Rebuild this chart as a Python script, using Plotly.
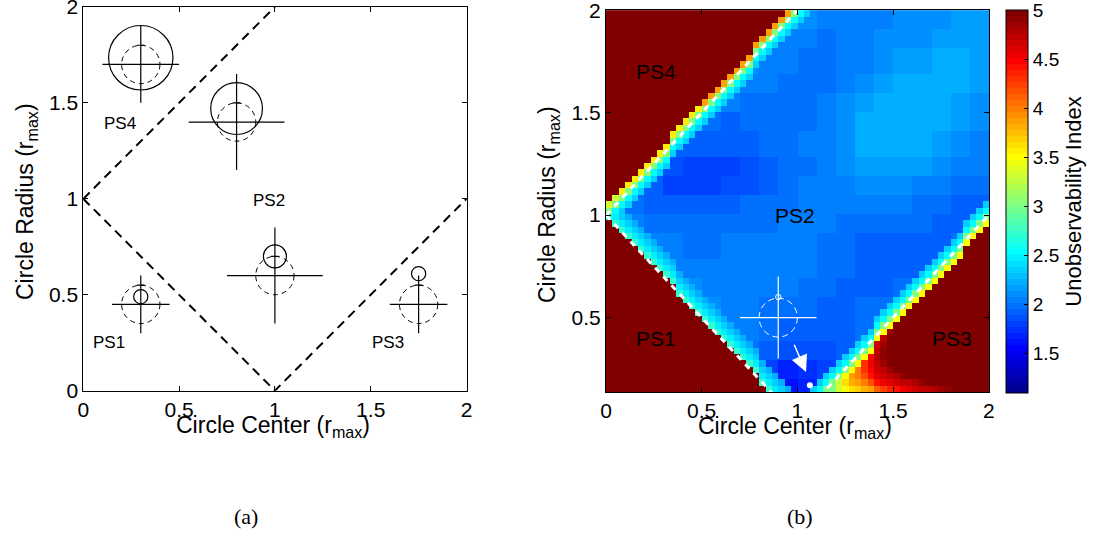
import numpy as np
import plotly.graph_objects as go

W, H = 1093, 533
FONT = "Liberation Sans"

# ---------------- panel (a) data ----------------
bnd_upper_x = [0.0, 1.0]
bnd_upper_y = [1.0, 2.0]
bnd_lower_x = [0.0, 1.0, 2.0]
bnd_lower_y = [1.0, 0.0, 1.0]

icon_x = [0.3, 0.8, 1.0, 0.3, 1.75]
icon_y = [1.7, 1.4, 0.6, 0.45, 0.45]
icon_arm = [0.2, 0.25, 0.25, 0.15, 0.15]
icon_dashed_r = [0.1, 0.1, 0.1, 0.1, 0.1]
icon_solid_y = [1.735, 1.47, 0.70, 0.49, 0.61]
icon_solid_r = [0.168, 0.135, 0.06, 0.037, 0.037]

ps_text = ["PS4", "PS2", "PS1", "PS3"]
ps_a_x = [0.19, 0.97, 0.135, 1.59]
ps_a_y = [1.39, 0.99, 0.25, 0.25]

# ---------------- panel (b) data ----------------
ps_b_x = [0.26, 0.99, 0.26, 1.81]
ps_b_y = [1.70, 1.00, 0.40, 0.40]

x_edges = np.linspace(0.0, 2.0, 61)
y_edges = np.linspace(0.137, 2.0, 61)

# PS2 interior read on a 0.1 grid (row centre y, first column centre x, values)
interior_y = [1.95, 1.85, 1.75, 1.65, 1.55, 1.45, 1.35, 1.25, 1.15, 1.05,
              0.95, 0.85, 0.75, 0.65, 0.55, 0.45, 0.35, 0.25, 0.15]
interior_x0 = [0.95, 0.85, 0.75, 0.65, 0.55, 0.45, 0.35, 0.25, 0.15, 0.05,
               0.05, 0.15, 0.25, 0.35, 0.45, 0.55, 0.65, 0.75, 0.85]
interior_vals = [
    [2.10, 2.10, 2.05, 2.02, 2.02, 2.05, 2.08, 2.10, 2.12, 2.14, 2.15],
    [2.10, 2.05, 2.02, 2.00, 2.02, 2.05, 2.08, 2.10, 2.12, 2.15, 2.16, 2.18],
    [2.08, 2.05, 2.02, 2.00, 2.00, 2.02, 2.06, 2.10, 2.14, 2.18, 2.20, 2.20, 2.18],
    [2.06, 2.04, 2.02, 2.00, 1.98, 2.00, 2.05, 2.10, 2.16, 2.20, 2.22, 2.22, 2.20, 2.16],
    [2.04, 2.02, 2.00, 2.00, 1.98, 1.98, 2.02, 2.08, 2.15, 2.20, 2.24, 2.24, 2.22, 2.18, 2.12],
    [1.98, 1.96, 1.95, 1.96, 1.98, 2.00, 2.00, 2.05, 2.12, 2.20, 2.25, 2.25, 2.24, 2.20, 2.15, 2.10],
    [1.95, 1.93, 1.92, 1.92, 1.93, 1.96, 2.00, 2.02, 2.05, 2.12, 2.20, 2.24, 2.24, 2.20, 2.15, 2.10, 2.05],
    [1.93, 1.88, 1.82, 1.78, 1.80, 1.85, 1.90, 1.96, 2.00, 2.04, 2.08, 2.14, 2.18, 2.18, 2.14, 2.10, 2.05, 2.02],
    [1.95, 1.90, 1.83, 1.79, 1.80, 1.84, 1.88, 1.93, 1.98, 2.02, 2.04, 2.06, 2.08, 2.10, 2.10, 2.06, 2.02, 2.00, 1.98],
    [2.05, 1.98, 1.93, 1.90, 1.90, 1.92, 1.94, 1.96, 1.98, 2.00, 2.02, 2.04, 2.04, 2.04, 2.04, 2.02, 2.00, 1.97, 1.95, 1.95],
    [2.10, 2.02, 1.98, 1.96, 1.96, 1.97, 1.98, 2.00, 2.00, 2.02, 2.03, 2.02, 2.00, 1.98, 1.97, 1.96, 1.96, 1.95, 1.93, 1.95],
    [2.10, 2.05, 2.02, 2.00, 2.00, 2.02, 2.04, 2.04, 2.04, 2.02, 2.00, 1.97, 1.95, 1.94, 1.93, 1.93, 1.95, 1.97],
    [2.10, 2.06, 2.04, 2.02, 2.02, 2.04, 2.05, 2.04, 2.02, 2.00, 1.96, 1.94, 1.93, 1.93, 1.95, 1.98],
    [2.10, 2.08, 2.05, 2.04, 2.03, 2.04, 2.02, 2.00, 1.97, 1.95, 1.94, 1.95, 1.97, 2.00],
    [2.12, 2.08, 2.05, 2.02, 2.00, 1.98, 1.96, 1.95, 1.95, 1.96, 1.98, 2.00],
    [2.10, 2.06, 2.02, 1.98, 1.94, 1.92, 1.93, 1.95, 1.97, 2.00],
    [2.05, 2.00, 1.93, 1.86, 1.85, 1.88, 1.92, 1.96],
    [1.95, 1.82, 1.70, 1.72, 1.80, 1.88],
    [1.75, 1.62, 1.65, 1.75],
]
interior_fill = 2.0

# transition cells next to each boundary (offset in cells -> value)
ps4_band = {0: 3.05, -1: 2.55, -2: 2.32}
ps4_outer_rows_y = [1.10, 1.52]
ps4_outer_vals = [3.3, 3.55, 3.9]
ps1_band = {0: 2.72, -1: 2.48, -2: 2.34, -3: 2.25}
ps3_band = {1: 3.5, 0: 3.0, -1: 2.55, -2: 2.32}
# bottom rows of PS3 (row from bottom, cells beyond the boundary)
ps3_low = [
    [3.05, 3.3, 3.5, 3.6, 3.7, 3.8, 3.9, 4.0, 4.1, 4.25, 4.35, 4.45, 4.55, 4.6, 4.65, 4.7, 4.75, 4.8, 4.85, 4.9, 4.95],
    [3.3, 3.6, 3.8, 3.9, 4.0, 4.15, 4.3, 4.45, 4.55, 4.6, 4.65, 4.7, 4.75, 4.8, 4.9, 4.95],
    [3.5, 3.85, 4.0, 4.2, 4.4, 4.55, 4.6, 4.65, 4.7, 4.8, 4.9, 4.95],
    [3.5, 4.0, 4.3, 4.5, 4.6, 4.65, 4.75, 4.85, 4.95],
    [3.5, 4.3, 4.55, 4.65, 4.75, 4.85, 4.95],
    [3.5, 4.5, 4.65, 4.8, 4.9],
    [3.5, 4.6, 4.75, 4.9],
    [3.5, 4.65, 4.85],
    [3.5, 4.75, 4.95],
    [3.5, 4.85],
    [3.5, 4.95],
]
saturated = 5.0

icon_b = dict(x=0.9, y=0.5, arm=0.2, rx=0.1, ry=0.095, top_y=0.6)
arrow_from = (0.98, 0.375)
arrow_to = (1.045, 0.235)
dot_b = (1.065, 0.17)

cbar_ticks = [1.5, 2, 2.5, 3, 3.5, 4, 4.5, 5]
zmin, zmax = 1.1, 5.001

# ---------------- build heatmap grid ----------------
xc = (x_edges[:-1] + x_edges[1:]) / 2
yc = (y_edges[:-1] + y_edges[1:]) / 2
dy = y_edges[1] - y_edges[0]
iy_arr = np.array(interior_y)


def interior_at(xv, yv):
    r = int(np.argmin(np.abs(iy_arr - yv)))
    row = interior_vals[r]
    xs = interior_x0[r] + 0.1 * np.arange(len(row))
    c = int(np.argmin(np.abs(xs - xv)))
    if abs(xs[c] - xv) > 0.1:
        return interior_fill
    return row[c]


z = np.zeros((len(yc), len(xc)))
for i, yv in enumerate(yc):
    for j, xv in enumerate(xc):
        v = interior_at(xv, yv)
        n4 = int(np.round((yv - xv - 1) / dy))
        k1 = int(np.ceil((1 - xv - yv) / dy))
        n3 = int(np.round((xv - 1 - yv) / dy))
        if n4 >= 2 or k1 >= 1:
            v = saturated
        elif n4 == 1:
            v = ps4_outer_vals[int(np.searchsorted(ps4_outer_rows_y, yv))]
        elif n3 >= 1:
            if i < len(ps3_low) and n3 - 1 < len(ps3_low[i]):
                v = ps3_low[i][n3 - 1]
            elif n3 == 1:
                v = ps3_band[1]
            else:
                v = saturated
        else:
            cands = [v]
            if n4 in ps4_band:
                cands.append(ps4_band[n4])
            if k1 in ps1_band:
                cands.append(ps1_band[k1])
            if n3 in ps3_band:
                cands.append(ps3_band[n3])
            v = max(cands)
        z[i, j] = v


def matlab_jet(m=64):
    n = int(np.ceil(m / 4))
    u = np.concatenate([np.arange(1, n + 1) / n, np.ones(n - 1), np.arange(n, 0, -1) / n])
    g = int(np.ceil(n / 2)) - (1 if m % 4 == 1 else 0) + np.arange(1, len(u) + 1)
    r = g + n
    b = g - n
    J = np.zeros((m, 3))
    r = r[r <= m]
    J[r - 1, 0] = u[:len(r)]
    g = g[g <= m]
    J[g - 1, 1] = u[:len(g)]
    b = b[b >= 1]
    J[b - 1, 2] = u[len(u) - len(b):]
    return J


J = matlab_jet(64)
colorscale = []
for k in range(64):
    c = "rgb(%d,%d,%d)" % tuple(int(round(255 * t)) for t in J[k])
    colorscale.append([k / 64, c])
    colorscale.append([(k + 1) / 64, c])

fig = go.Figure()

# ---------------- panel (a) ----------------
dash_line = dict(color="black", width=2, dash="9px,6px")
fig.add_trace(go.Scatter(x=bnd_upper_x, y=bnd_upper_y, mode="lines", line=dash_line,
                         xaxis="x", yaxis="y", hoverinfo="skip", showlegend=False))
fig.add_trace(go.Scatter(x=bnd_lower_x, y=bnd_lower_y, mode="lines", line=dash_line,
                         xaxis="x", yaxis="y", hoverinfo="skip", showlegend=False))

tick_half = 0.02
lx, ly = [], []
for cx, cy, a, r in zip(icon_x, icon_y, icon_arm, icon_dashed_r):
    lx += [cx - a, cx + a, None, cx, cx, None, cx - tick_half, cx + tick_half, None]
    ly += [cy, cy, None, cy - a, cy + a, None, cy + r, cy + r, None]
fig.add_trace(go.Scatter(x=lx, y=ly, mode="lines", line=dict(color="black", width=1.2),
                         xaxis="x", yaxis="y", hoverinfo="skip", showlegend=False))

shapes = []
for cx, cy, r, sy, sr in zip(icon_x, icon_y, icon_dashed_r, icon_solid_y, icon_solid_r):
    shapes.append(dict(type="circle", xref="x", yref="y", x0=cx - r, x1=cx + r, y0=cy - r, y1=cy + r,
                       line=dict(color="black", width=1, dash="5px,4px")))
    shapes.append(dict(type="circle", xref="x", yref="y", x0=cx - sr, x1=cx + sr, y0=sy - sr, y1=sy + sr,
                       line=dict(color="black", width=1.2)))

# ---------------- panel (b) ----------------
fig.add_trace(go.Heatmap(x=x_edges, y=y_edges, z=z, colorscale=colorscale, zmin=zmin, zmax=zmax,
                         xaxis="x2", yaxis="y2", hoverinfo="skip",
                         colorbar=dict(x=1005.7 / W, xanchor="left", xpad=0, ypad=0,
                                       y=1 - 10 / H, yanchor="top", len=382.7, lenmode="pixels",
                                       thickness=22, thicknessmode="pixels",
                                       outlinewidth=1, outlinecolor="black",
                                       tickvals=cbar_ticks, ticktext=[("%g" % t) for t in cbar_ticks],
                                       ticks="inside", ticklen=4, tickcolor="black",
                                       ticklabeloverflow="allow",
                                       tickfont=dict(family=FONT, size=19, color="black"),
                                       title=dict(text="Unobservability Index", side="right",
                                                  font=dict(family=FONT, size=22, color="black")))))

wdash = dict(color="white", width=3, dash="6px,6px")
fig.add_trace(go.Scatter(x=bnd_upper_x, y=bnd_upper_y, mode="lines", line=wdash,
                         xaxis="x2", yaxis="y2", hoverinfo="skip", showlegend=False))
fig.add_trace(go.Scatter(x=bnd_lower_x, y=bnd_lower_y, mode="lines", line=wdash,
                         xaxis="x2", yaxis="y2", hoverinfo="skip", showlegend=False))

bx, by, ba = icon_b["x"], icon_b["y"], icon_b["arm"]
fig.add_trace(go.Scatter(x=[bx - ba, bx + ba, None, bx, bx], y=[by, by, None, by - ba, by + ba],
                         mode="lines", line=dict(color="white", width=1.2),
                         xaxis="x2", yaxis="y2", hoverinfo="skip", showlegend=False))
fig.add_trace(go.Scatter(x=[dot_b[0]], y=[dot_b[1]], mode="markers",
                         marker=dict(color="white", size=6),
                         xaxis="x2", yaxis="y2", hoverinfo="skip", showlegend=False))
shapes.append(dict(type="circle", xref="x2", yref="y2",
                   x0=bx - icon_b["rx"], x1=bx + icon_b["rx"], y0=by - icon_b["ry"], y1=by + icon_b["ry"],
                   line=dict(color="white", width=1, dash="6px,4px")))
shapes.append(dict(type="circle", xref="x2", yref="y2",
                   x0=bx - 0.014, x1=bx + 0.014, y0=icon_b["top_y"] - 0.013, y1=icon_b["top_y"] + 0.013,
                   line=dict(color="white", width=1)))

annotations = []
for t, x, y in zip(ps_text, ps_a_x, ps_a_y):
    annotations.append(dict(text=t, x=x, y=y, xref="x", yref="y", showarrow=False,
                            font=dict(family=FONT, size=17, color="black")))
for t, x, y in zip(ps_text, ps_b_x, ps_b_y):
    annotations.append(dict(text=t, x=x, y=y, xref="x2", yref="y2", showarrow=False,
                            font=dict(family=FONT, size=21, color="black")))
annotations.append(dict(text="", x=arrow_to[0], y=arrow_to[1], ax=arrow_from[0], ay=arrow_from[1],
                        xref="x2", yref="y2", axref="x2", ayref="y2", showarrow=True,
                        arrowhead=2, arrowsize=2.2, arrowwidth=1.5, arrowcolor="white", standoff=0))

title_font = dict(family=FONT, size=23, color="black")
xt = "Circle Center (r<sub>max</sub>)"
yt = "Circle Radius (r<sub>max</sub>)"
for px_x, px_y in [(272.5, 426), (795, 427)]:
    annotations.append(dict(text=xt, x=px_x / W, y=1 - px_y / H, xref="paper", yref="paper",
                            xanchor="center", yanchor="middle", showarrow=False, font=title_font))
for px_x, px_y in [(26, 202), (549, 205)]:
    annotations.append(dict(text=yt, x=px_x / W, y=1 - px_y / H, xref="paper", yref="paper",
                            xanchor="center", yanchor="middle", textangle=-90, showarrow=False,
                            font=title_font))
for t, px_x in [("(a)", 246), ("(b)", 800)]:
    annotations.append(dict(text=t, x=px_x / W, y=1 - 516 / H, xref="paper", yref="paper",
                            xanchor="center", yanchor="middle", showarrow=False,
                            font=dict(family="Liberation Serif", size=22, color="black")))

tickvals = [0, 0.5, 1, 1.5, 2]
ticktext = ["0", "0.5", "1", "1.5", "2"]
ax_common = dict(showline=True, linecolor="black", linewidth=1, mirror="ticks", ticks="inside",
                 ticklen=5, tickcolor="black", showgrid=False, zeroline=False,
                 tickvals=tickvals, ticktext=ticktext, ticklabeloverflow="allow",
                 tickfont=dict(family=FONT, size=21, color="black"))

fig.update_layout(
    width=W, height=H, margin=dict(l=0, r=0, t=0, b=0, pad=0, autoexpand=False),
    paper_bgcolor="white", plot_bgcolor="white", showlegend=False,
    xaxis=dict(domain=[83.3 / W, 466.7 / W], range=[0, 2.001], anchor="y", **ax_common),
    yaxis=dict(domain=[1 - 390.7 / H, 1 - 6.7 / H], range=[0, 2.001], anchor="x", **ax_common),
    xaxis2=dict(domain=[606 / W, 989 / W], range=[0, 2.001], anchor="y2", **ax_common),
    yaxis2=dict(domain=[1 - 392 / H, 1 - 10 / H], range=[0.137, 2.001], anchor="x2", **ax_common),
    shapes=shapes, annotations=annotations,
)

fig.write_html("out.html")
